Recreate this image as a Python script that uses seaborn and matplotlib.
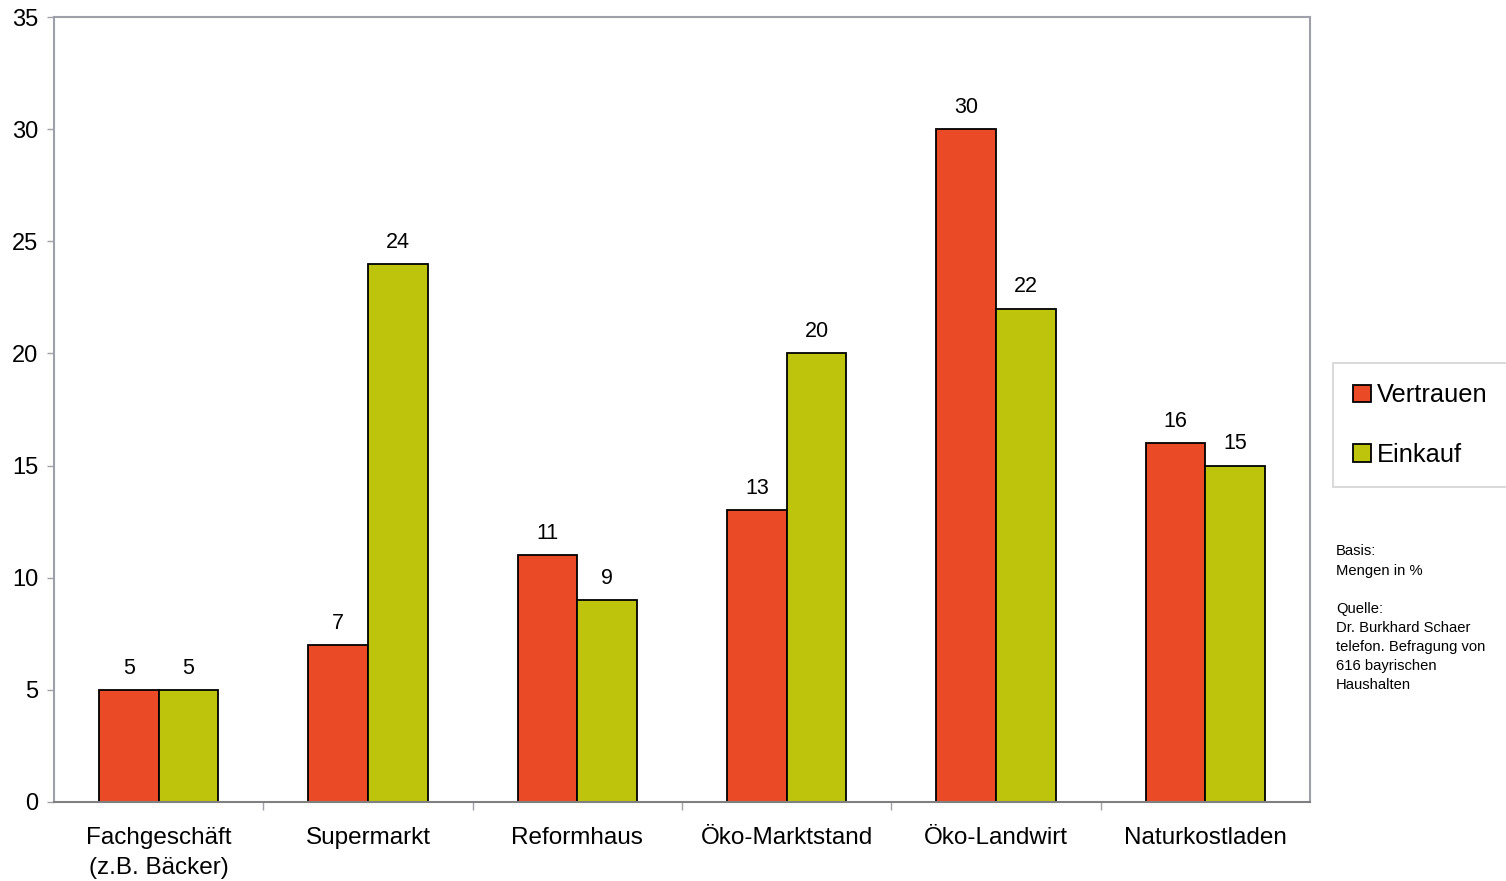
import matplotlib
matplotlib.use("Agg")
import matplotlib.pyplot as plt
import seaborn as sns
import pandas as pd
import numpy as np
from matplotlib.patches import Patch

categories = ["Fachgeschäft\n(z.B. Bäcker)", "Supermarkt", "Reformhaus", "Öko-Marktstand", "Öko-Landwirt", "Naturkostladen"]
vertrauen = [5, 7, 11, 13, 30, 16]
einkauf = [5, 24, 9, 20, 22, 15]
series = ["Vertrauen", "Einkauf"]
colors = ["#EA4A26", "#BEC40C"]
yticks = [0, 5, 10, 15, 20, 25, 30, 35]

df = pd.DataFrame({
    "Kategorie": categories * 2,
    "Wert": vertrauen + einkauf,
    "Serie": [series[0]] * len(categories) + [series[1]] * len(categories),
})

sns.set_theme(style="white")
plt.rcParams["font.family"] = ["Liberation Sans", "DejaVu Sans"]
plt.rcParams["text.color"] = "black"
plt.rcParams["xtick.color"] = "black"
plt.rcParams["ytick.color"] = "black"

fig = plt.figure(figsize=(15.06, 8.81), dpi=100)
ax = fig.add_axes([0.0359, 0.0897, 0.834, 0.891])

sns.barplot(data=df, x="Kategorie", y="Wert", hue="Serie", order=categories,
            hue_order=series, palette=colors, saturation=1, width=0.57, gap=0,
            edgecolor="black", linewidth=1.3, errorbar=None, ax=ax, legend=False)

for cont in ax.containers:
    ax.bar_label(cont, fmt="%d", padding=8, fontsize=15.5, color="black")

ax.set_ylim(0, 35)
ax.set_xlim(-0.5, len(categories) - 0.5)
ax.set_yticks(yticks)
ax.set_yticklabels([str(t) for t in yticks], fontsize=17)
ax.set_xlabel("")
ax.set_ylabel("")
ax.tick_params(axis="x", labelsize=17.5, length=0, pad=18, labelcolor="black")
for lbl in ax.get_xticklabels():
    lbl.set_linespacing(1.45)
ax.tick_params(axis="y", length=5, width=1, color="#A0A0A8", left=True, pad=6.5, labelcolor="black")
ax.set_xticks(np.arange(0.5, len(categories) - 0.5), minor=True)
ax.tick_params(axis="x", which="minor", length=6, width=1, color="#A0A0A8", bottom=True)

for s in ax.spines.values():
    s.set_color("#A0A0AA")
    s.set_linewidth(1.5)
    s.set_visible(True)
ax.spines["bottom"].set_color("#808080")

handles = [Patch(facecolor=c, edgecolor="black", linewidth=1.3) for c in colors]
leg = fig.legend(handles, series, loc="upper left", bbox_to_anchor=(0.885, 0.588),
                 fontsize=18.3, frameon=True, handlelength=0.7, handleheight=0.7,
                 handletextpad=0.25, labelspacing=1.4, borderpad=0.8, borderaxespad=0,
                 fancybox=False)
leg.get_frame().set_edgecolor("#C8C8C8")
leg.get_frame().set_linewidth(1.2)

fig.text(0.887, 0.382,
         "Basis:\nMengen in %\n\nQuelle:\nDr. Burkhard Schaer\ntelefon. Befragung von\n616 bayrischen\nHaushalten",
         fontsize=10.6, va="top", ha="left", linespacing=1.46)

fig.savefig("out.png", dpi=100)
